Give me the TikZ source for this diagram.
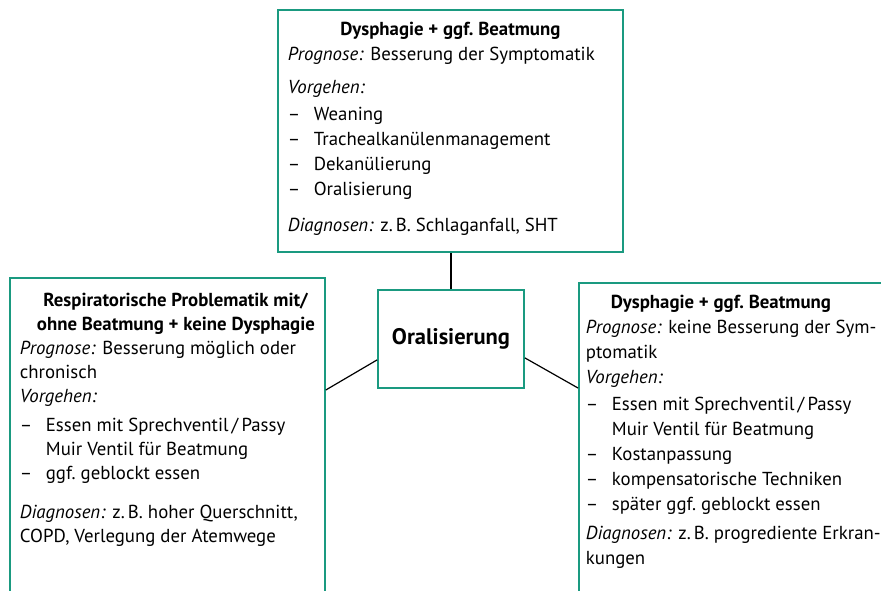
\documentclass[tikz,border=0pt]{standalone}
\usepackage{fontspec}
\setmainfont{PT Sans}
\usetikzlibrary{calc}
\definecolor{tealbox}{RGB}{26,154,128}
\newcommand\listitem[1]{\par\hangindent=26pt\hangafter=1\noindent\makebox[26pt][l]{–}#1\par}
\tikzset{
  box/.style={draw=tealbox, line width=1.8pt, inner ysep=0pt, inner xsep=10pt, anchor=north west, fill=white},
  midbox/.style={draw=tealbox, line width=1.8pt, minimum width=146pt, minimum height=98pt, inner sep=0pt, font=\fontsize{22.5}{28}\selectfont\bfseries},
  conn/.style={line width=1.2pt, black}
}
\begin{document}
\begin{tikzpicture}[x=1pt,y=-1pt]
\useasboundingbox (0,0) rectangle (881,590);
\clip (0,0) rectangle (881,590);
\node[box] (top) at (277,9) {\parbox[t][242pt][t]{325pt}{\fontsize{18.8}{25}\selectfont\raggedright\parindent=0pt\parskip=0pt
{\centering\rule{0pt}{26pt}\textbf{Dysphagie + ggf.\ Beatmung}\par}
\textit{Prognose:} Besserung der Symptomatik\par
\vspace{8pt}
\textit{Vorgehen:}\par
\vspace{2pt}
\listitem{Weaning}
\listitem{Trachealkanülenmanagement}
\listitem{Dekanülierung}
\listitem{Oralisierung}
\vspace{11pt}
\textit{Diagnosen:} z.\,B. Schlaganfall, SHT\par}};
\node[box] (left) at (9,277) {\parbox[t][323pt][t]{295pt}{\fontsize{18.8}{24}\selectfont\raggedright\parindent=0pt\parskip=0pt
\makebox[312pt][c]{\rule{0pt}{29pt}\textbf{Respiratorische Problematik mit/}}\newline
\makebox[312pt][c]{\textbf{ohne Beatmung + keine Dysphagie}}\par
\textit{Prognose:} Besserung möglich oder\newline chronisch\par
\textit{Vorgehen:}\par
\vspace{5pt}
\listitem{Essen mit Sprechventil\,/\,Passy\newline Muir Ventil für Beatmung}
\listitem{ggf.\ geblockt essen}
\vspace{15pt}
\textit{Diagnosen:} z.\,B. hoher Querschnitt,\newline COPD, Verlegung der Atemwege\par}};
\node[box, inner xsep=7pt] (right) at (578,282) {\parbox[t][330pt][t]{302pt}{\fontsize{18.8}{25}\selectfont\raggedright\parindent=0pt\parskip=0pt
\makebox[270pt][c]{\rule{0pt}{26pt}\textbf{Dysphagie + ggf.\ Beatmung}}\par
\textit{Prognose:} keine Besserung der Sym-\newline ptomatik\par
\textit{Vorgehen:}\par
\vspace{2pt}
\listitem{Essen mit Sprechventil\,/\,Passy\newline Muir Ventil für Beatmung}
\listitem{Kostanpassung}
\listitem{kompensatorische Techniken}
\listitem{später ggf.\ geblockt essen}
\vspace{4pt}
\textit{Diagnosen:} z.\,B. progrediente Erkran-\newline kungen\par}};
\node[midbox] (mid) at (451,339) {Oralisierung};
\draw[conn] (mid.north) -- (mid.north |- top.south);
\draw[conn] ($(mid.south west)+(0,-29)$) -- ($(left.north east)+(0,113)$);
\draw[conn] ($(mid.south east)+(0,-31)$) -- ($(right.north west)+(0,106)$);
\end{tikzpicture}
\end{document}
